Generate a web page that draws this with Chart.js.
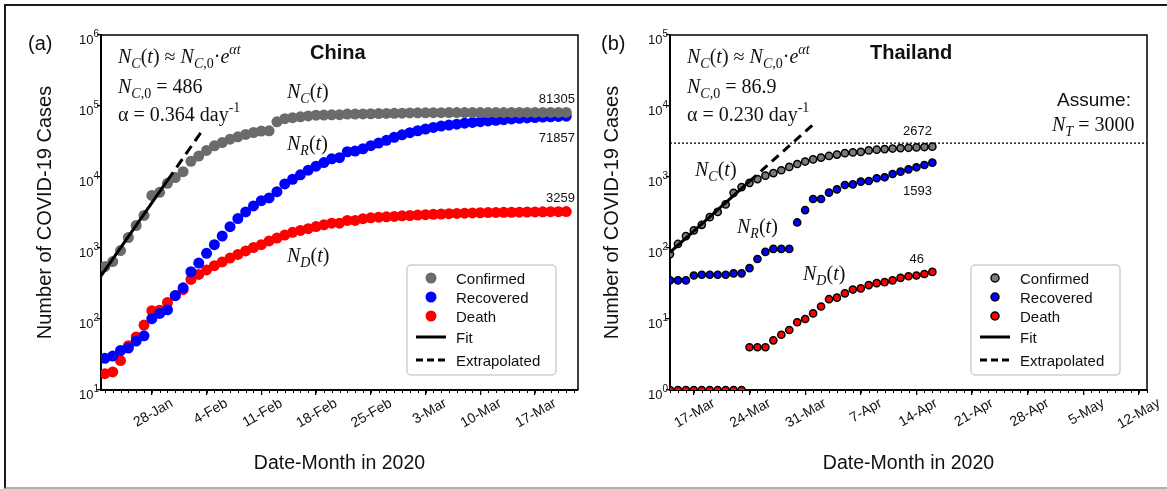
<!DOCTYPE html>
<html>
<head>
<meta charset="utf-8">
<script src="https://cdn.jsdelivr.net/npm/chart.js@4.4.1/dist/chart.umd.min.js"></script>
<style>
html,body{margin:0;padding:0;background:#fff;}
body{width:1167px;height:489px;overflow:hidden;position:relative;}
#frame{position:absolute;left:4px;top:4px;width:1167px;height:481px;border-top:2px solid #1a1a1a;border-left:2px solid #1a1a1a;border-bottom:2px solid #b0b0b0;}
.panel{position:absolute;top:0;height:489px;}
#pa{left:0;width:590px;}
#pb{left:590px;width:577px;}
#ov{position:absolute;left:0;top:0;pointer-events:none;}
#ov text{white-space:pre;}
.sans{font-family:"Liberation Sans",Arial,sans-serif;fill:#111;}
.ser{font-family:"Liberation Serif","Times New Roman",serif;fill:#111;font-size:20px;}
.it{font-style:italic;}
</style>
</head>
<body>
<div id="frame"></div>
<div class="panel" id="pa"><canvas id="ca" width="590" height="489"></canvas></div>
<div class="panel" id="pb"><canvas id="cb" width="577" height="489"></canvas></div>
<svg id="ov" width="1167" height="489" xmlns="http://www.w3.org/2000/svg">
  <!-- panel (a) -->
  <text class="sans" x="28" y="50" font-size="20">(a)</text>
  <text class="sans" x="310" y="59" font-size="20" font-weight="bold">China</text>
  <text class="ser" x="118" y="63"><tspan class="it">N</tspan><tspan class="it" font-size="14" dy="5">C</tspan><tspan dy="-5">(</tspan><tspan class="it">t</tspan><tspan>) ≈ </tspan><tspan class="it">N</tspan><tspan class="it" font-size="14" dy="5">C</tspan><tspan font-size="14">,0</tspan><tspan dy="-5">·</tspan><tspan class="it">e</tspan><tspan class="it" font-size="14" dy="-9">αt</tspan></text>
  <text class="ser" x="118" y="93"><tspan class="it">N</tspan><tspan class="it" font-size="14" dy="5">C</tspan><tspan font-size="14">,0</tspan><tspan dy="-5"> = 486</tspan></text>
  <text class="ser" x="118" y="121"><tspan>α = 0.364 day</tspan><tspan font-size="14" dy="-9">-1</tspan></text>
  <text class="ser" x="287" y="98"><tspan class="it">N</tspan><tspan class="it" font-size="14" dy="5">C</tspan><tspan dy="-5">(</tspan><tspan class="it">t</tspan><tspan>)</tspan></text>
  <text class="ser" x="287" y="150"><tspan class="it">N</tspan><tspan class="it" font-size="14" dy="5">R</tspan><tspan dy="-5">(</tspan><tspan class="it">t</tspan><tspan>)</tspan></text>
  <text class="ser" x="287" y="262"><tspan class="it">N</tspan><tspan class="it" font-size="14" dy="5">D</tspan><tspan dy="-5">(</tspan><tspan class="it">t</tspan><tspan>)</tspan></text>
  <text class="sans" x="575" y="103" font-size="13" text-anchor="end">81305</text>
  <text class="sans" x="575" y="142" font-size="13" text-anchor="end">71857</text>
  <text class="sans" x="575" y="202" font-size="13" text-anchor="end">3259</text>
  <g id="legA"></g>
  <!-- panel (b) -->
  <text class="sans" x="601" y="50" font-size="20">(b)</text>
  <text class="sans" x="870" y="59" font-size="20" font-weight="bold">Thailand</text>
  <text class="ser" x="687" y="63"><tspan class="it">N</tspan><tspan class="it" font-size="14" dy="5">C</tspan><tspan dy="-5">(</tspan><tspan class="it">t</tspan><tspan>) ≈ </tspan><tspan class="it">N</tspan><tspan class="it" font-size="14" dy="5">C</tspan><tspan font-size="14">,0</tspan><tspan dy="-5">·</tspan><tspan class="it">e</tspan><tspan class="it" font-size="14" dy="-9">αt</tspan></text>
  <text class="ser" x="687" y="93"><tspan class="it">N</tspan><tspan class="it" font-size="14" dy="5">C</tspan><tspan font-size="14">,0</tspan><tspan dy="-5"> = 86.9</tspan></text>
  <text class="ser" x="687" y="121"><tspan>α = 0.230 day</tspan><tspan font-size="14" dy="-9">-1</tspan></text>
  <text class="ser" x="695" y="176"><tspan class="it">N</tspan><tspan class="it" font-size="14" dy="5">C</tspan><tspan dy="-5">(</tspan><tspan class="it">t</tspan><tspan>)</tspan></text>
  <text class="ser" x="737" y="233"><tspan class="it">N</tspan><tspan class="it" font-size="14" dy="5">R</tspan><tspan dy="-5">(</tspan><tspan class="it">t</tspan><tspan>)</tspan></text>
  <text class="ser" x="803" y="280"><tspan class="it">N</tspan><tspan class="it" font-size="14" dy="5">D</tspan><tspan dy="-5">(</tspan><tspan class="it">t</tspan><tspan>)</tspan></text>
  <text class="sans" x="932" y="135" font-size="13" text-anchor="end">2672</text>
  <text class="sans" x="932" y="195" font-size="13" text-anchor="end">1593</text>
  <text class="sans" x="924" y="263" font-size="13" text-anchor="end">46</text>
  <text class="sans" x="1057" y="106" font-size="19">Assume:</text>
  <text class="ser" x="1052" y="131"><tspan class="it">N</tspan><tspan class="it" font-size="14" dy="5">T</tspan><tspan dy="-5"> = 3000</tspan></text>
  <g id="legB"></g>
</svg>
<script>
// ---------- China (22-Jan .. 21-Mar 2020), one value per day ----------
const chinaConfirmed = [548,643,920,1406,2075,2877,5509,6087,8141,9802,
  11891,16630,19716,23707,27440,30587,34110,36814,39829,42354,
  44386,44759,59895,66358,68413,70513,72434,74211,74619,75077,
  75550,77001,77022,77241,77754,78166,78600,78928,79356,
  79932,80136,80261,80386,80537,80690,80770,80823,80860,80887,
  80921,80932,80945,80977,81003,81033,81058,81102,81156,81250,
  81305];
const chinaRecovered = [28,30,36,39,49,58,101,120,135,214,
  275,463,614,843,1115,1476,1998,2595,3218,3918,
  4635,5079,6213,7973,9294,10748,12455,14199,15952,18002,
  18693,22687,23170,24990,27650,30053,32898,36291,39279,
  42118,44810,47404,49955,52240,53888,55478,57320,58735,60106,
  61644,62901,64196,65660,67017,67910,68798,69755,70535,71266,
  71857];
const chinaDeaths = [17,18,26,42,56,82,131,133,171,213,
  259,361,425,491,563,637,722,811,908,1016,
  1113,1259,1380,1523,1665,1770,1868,2004,2118,2236,
  2236,2441,2443,2592,2663,2715,2744,2788,2835,
  2870,2912,2945,2981,3013,3042,3070,3097,3119,3136,
  3158,3169,3176,3189,3199,3213,3226,3237,3245,3249,
  3259];
const chinaTickDays = [6,13,20,27,34,41,48,55];
const chinaTickLabels = ['28-Jan','4-Feb','11-Feb','18-Feb','25-Feb','3-Mar','10-Mar','17-Mar'];
const chinaYTicks = [10,100,1000,10000,100000,1000000];
const chinaYExps = ['1','2','3','4','5','6'];
const chinaFitDays = [-0.5, 8];
const chinaFitVals = [405, 8940];
const chinaExtDays = [8, 12.4];
const chinaExtVals = [8940, 44300];

// ---------- Thailand (14-Mar .. 16-Apr 2020) ----------
const thaiConfirmed = [82,114,147,177,212,272,322,411,599,721,
  827,934,1045,1136,1245,1388,1524,1651,1771,1875,
  1978,2067,2169,2220,2258,2369,2423,2473,2518,2551,
  2579,2613,2643,2672];
const thaiRecovered = [35,35,35,41,42,42,42,42,44,44,
  52,70,88,97,97,97,229,342,490,490,
  601,671,771,789,859,879,960,991,1102,1188,
  1283,1370,1476,1593];
const thaiDeaths = [1,1,1,1,1,1,1,1,1,1,
  4,4,4,5,6,7,9,10,12,15,
  19,20,23,26,27,30,32,33,35,38,
  40,41,43,46];
const thaiTickDays = [3,10,17,24,31,38,45,52,59];
const thaiTickLabels = ['17-Mar','24-Mar','31-Mar','7-Apr','14-Apr','21-Apr','28-Apr','5-May','12-May'];
const thaiYTicks = [1,10,100,1000,10000,100000];
const thaiYExps = ['0','1','2','3','4','5'];
const thaiFitDays = [0, 10];
const thaiFitVals = [86.9, 867];
const thaiExtDays = [10, 18.4];
const thaiExtVals = [867, 5990];
const thaiLimitDays = [0, 60];
const thaiLimitVals = [3000, 3000];

const legendLabels = ['Confirmed','Recovered','Death','Fit','Extrapolated'];

// ---------- helpers ----------
const pts = vals => vals.map((v,i)=>({x:i, y:v}));
const pairs = (xs, ys) => xs.map((x,i)=>({x:x, y:ys[i]}));
const SANS = '"Liberation Sans", Arial, sans-serif';

Chart.defaults.font.family = SANS;
Chart.defaults.color = '#111';

// frame (top/right), daily minor ticks and power-of-ten y labels
const framePlugin = {
  id:'frame',
  afterDraw(chart, args, opts){
    const {ctx, chartArea:a, scales:{x, y}} = chart;
    ctx.save();
    ctx.strokeStyle = '#000';
    ctx.lineWidth = 1.5;
    ctx.beginPath();
    ctx.moveTo(a.left, a.top); ctx.lineTo(a.right, a.top); ctx.lineTo(a.right, a.bottom);
    ctx.stroke();
    ctx.lineWidth = 1;
    for (let d = Math.ceil(x.min); d <= x.max; d++) {
      const px = Math.round(x.getPixelForValue(d)) + 0.5;
      ctx.beginPath(); ctx.moveTo(px, a.bottom); ctx.lineTo(px, a.bottom + 3); ctx.stroke();
    }
    // y tick labels: "10" with a raised exponent
    ctx.fillStyle = '#111';
    ctx.textAlign = 'right';
    ctx.textBaseline = 'alphabetic';
    const xr = a.left - 2;
    opts.yTicks.forEach((v, i) => {
      const py = y.getPixelForValue(v);
      ctx.font = '10px ' + SANS;
      const e = opts.yExps[i];
      const w = ctx.measureText(e).width;
      ctx.fillText(e, xr, py + 2);
      ctx.font = '13px ' + SANS;
      ctx.fillText('10', xr - w, py + 9);
    });
    ctx.restore();
  }
};

function dots(label, vals, color, r, bw, order){
  return {label, data: pts(vals), showLine:false, pointRadius:r, pointHoverRadius:r,
    pointBackgroundColor:color, pointBorderColor:'#000', pointBorderWidth:bw, order, clip:0};
}
function line(label, xs, ys, dash, width, order){
  return {label, data: pairs(xs, ys), showLine:true, pointRadius:0, pointHoverRadius:0,
    borderColor:'#000', borderWidth:width, borderDash:dash, order, clip:0};
}

function buildChart(id, cfg){
  return new Chart(document.getElementById(id), {
    type:'scatter',
    data:{datasets:cfg.datasets},
    options:{
      responsive:false, animation:false, devicePixelRatio:1, events:[],
      layout:{padding:cfg.padding},
      plugins:{legend:{display:false}, tooltip:{enabled:false},
        frame:{yTicks:cfg.yTicks, yExps:cfg.yExps}},
      scales:{
        x:{type:'linear', position:'bottom', min:cfg.xMin, max:cfg.xMax,
          afterBuildTicks:s=>{ s.ticks = cfg.tickDays.map(v=>({value:v})); },
          afterFit:s=>{ s.height = cfg.xHeight; },
          ticks:{callback:(v,i)=>cfg.tickLabels[i], autoSkip:false, minRotation:30, maxRotation:30,
            labelOffset:20, padding:0, font:{size:14}, color:'#111'},
          grid:{drawOnChartArea:false, drawTicks:true, tickLength:5, color:'#000', lineWidth:1.3},
          border:{display:true, color:'#000', width:2},
          title:{display:true, text:'Date-Month in 2020', font:{size:19.5}, color:'#111', padding:{top:0, bottom:14}}
        },
        y:{type:'logarithmic', min:cfg.yMin, max:cfg.yMax,
          afterBuildTicks:s=>{ s.ticks = cfg.yTicks.map(v=>({value:v})); },
          afterFit:s=>{ s.width = cfg.yWidth; },
          ticks:{display:false},
          grid:{drawOnChartArea:false, drawTicks:true, tickLength:4, color:'#000', lineWidth:1.3},
          border:{display:true, color:'#000', width:2},
          title:{display:true, text:'Number of COVID-19 Cases', font:{size:20}, color:'#111', padding:{top:cfg.yTitlePad, bottom:0}}
        }
      }
    },
    plugins:[framePlugin]
  });
}

buildChart('ca', {
  padding:{left:0, right:12, top:35, bottom:0},
  xMin:-0.5, xMax:60.5, xHeight:99, yWidth:101, yTitlePad:33,
  yMin:10, yMax:1000000,
  tickDays:chinaTickDays, tickLabels:chinaTickLabels, yTicks:chinaYTicks, yExps:chinaYExps,
  datasets:[
    line('Fit', chinaFitDays, chinaFitVals, [], 3, 0),
    line('Extrapolated', chinaExtDays, chinaExtVals, [10,6], 3, 1),
    dots('Confirmed', chinaConfirmed, '#6b6b6b', 5.5, 0, 2),
    dots('Recovered', chinaRecovered, '#0000ff', 5.5, 0, 3),
    dots('Death', chinaDeaths, '#ff0000', 5.5, 0, 4)
  ]
});

buildChart('cb', {
  padding:{left:0, right:20, top:35, bottom:0},
  xMin:0, xMax:60, xHeight:99, yWidth:80, yTitlePad:10,
  yMin:1, yMax:100000,
  tickDays:thaiTickDays, tickLabels:thaiTickLabels, yTicks:thaiYTicks, yExps:thaiYExps,
  datasets:[
    line('Fit', thaiFitDays, thaiFitVals, [], 3, 0),
    line('Extrapolated', thaiExtDays, thaiExtVals, [9,6], 3, 1),
    line('Assume N_T', thaiLimitDays, thaiLimitVals, [2,2], 1.3, 2),
    dots('Confirmed', thaiConfirmed, '#7a7a7a', 3.6, 1.5, 3),
    dots('Recovered', thaiRecovered, '#0000ff', 3.6, 1.5, 4),
    dots('Death', thaiDeaths, '#ff0000', 3.6, 1.5, 5)
  ]
});

// ---------- legends (inside the plot areas) ----------
function legend(gid, bx, by, colors, r, bw){
  const g = document.getElementById(gid);
  const NS = 'http://www.w3.org/2000/svg';
  const mk = (tag, attrs) => { const e = document.createElementNS(NS, tag); for (const k in attrs) e.setAttribute(k, attrs[k]); g.appendChild(e); return e; };
  mk('rect', {x:bx, y:by, width:149, height:110, rx:4, fill:'#fff', stroke:'#cfcfcf', 'stroke-width':1.5});
  const rowY = [13, 32, 51, 72, 95];
  legendLabels.forEach((lab, i) => {
    const cy = by + rowY[i];
    if (i < 3) {
      mk('circle', {cx:bx+24, cy:cy, r:r, fill:colors[i], stroke:'#000', 'stroke-width':bw});
    } else {
      mk('line', {x1:bx+9, y1:cy, x2:bx+39, y2:cy, stroke:'#000', 'stroke-width':3, 'stroke-dasharray': i===4 ? '7 4' : 'none'});
    }
    const t = mk('text', {x:bx+49, y:cy+5.5, class:'sans', 'font-size':15});
    t.textContent = lab;
  });
}
legend('legA', 407, 265, ['#6b6b6b','#0000ff','#ff0000'], 5.5, 0);
legend('legB', 971, 265, ['#7a7a7a','#0000ff','#ff0000'], 4, 1.5);
</script>
</body>
</html>
